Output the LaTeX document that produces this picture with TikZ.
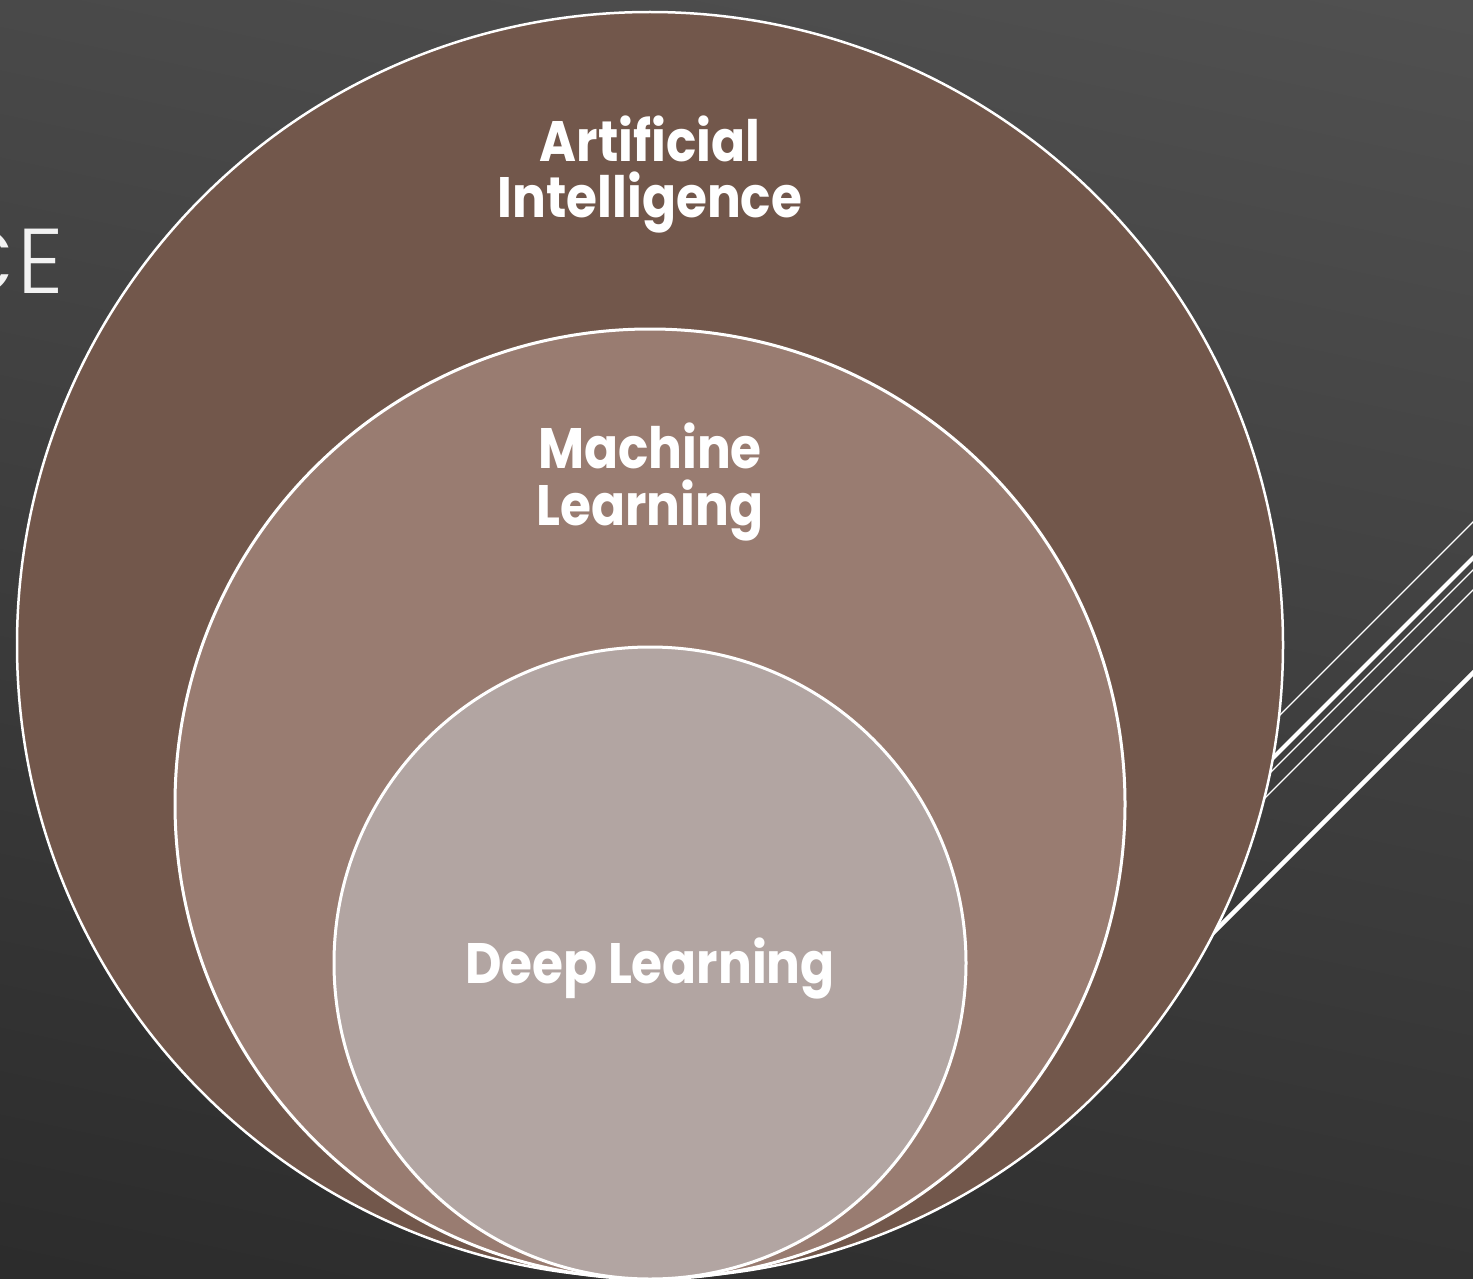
\documentclass[tikz,border=0pt]{standalone}
\usepackage{fontspec}
\setmainfont{Poppins}
\newfontfamily\lightfont{Poppins Light}
\newfontfamily\labfont{Poppins Bold}[FakeStretch=0.88]
\definecolor{bgtop}{HTML}{525252}
\definecolor{bgbot}{HTML}{2A2A2A}
\definecolor{aicol}{HTML}{72574B}
\definecolor{mlcol}{HTML}{997C71}
\definecolor{dlcol}{HTML}{B2A5A2}
\definecolor{titlecol}{HTML}{F2F2F2}
\begin{document}
\begin{tikzpicture}[x=1pt,y=-1pt,
  ring/.style={circle, draw=white, inner sep=0pt, outer sep=0pt},
  label/.style={text=white, font=\labfont\fontsize{57}{57}\selectfont, align=center, inner sep=0pt},
  thinline/.style={draw=white, line width=1.3pt},
  thickline/.style={draw=white, line width=4pt}]
\useasboundingbox (0,0) rectangle (1473,1279);
\begin{scope}
\clip (0,0) rectangle (1473,1279);
\shade[top color=bgtop, bottom color=bgbot, shading angle=-12] (-200,-200) rectangle (1673,1479);
% partially visible title
\node[anchor=base east, inner sep=0pt, text=titlecol, font=\lightfont\fontsize{92}{92}\selectfont] (title) at (64,293) {C\hspace{3pt}E};
% decorative lines on the right
\coordinate (l1a) at (1480,515); \coordinate (l1b) at (1173,822);
\coordinate (l2a) at (1480,551); \coordinate (l2b) at (1173,858);
\coordinate (l3a) at (1480,563); \coordinate (l3b) at (1173,870);
\coordinate (l4a) at (1480,583); \coordinate (l4b) at (1173,890);
\coordinate (l5a) at (1480,666); \coordinate (l5b) at (1173,973);
\draw[thinline] (l1a) -- (l1b);
\draw[thickline] (l2a) -- (l2b);
\draw[thinline] (l3a) -- (l3b);
\draw[thinline] (l4a) -- (l4b);
\draw[thickline, line width=4.5pt] (l5a) -- (l5b);
% nested circles
\node[ring, fill=aicol, line width=2.5pt, minimum size=1266pt] (ai) at (650,645) {};
\node[ring, fill=mlcol, line width=3pt, minimum size=950pt] (ml) at (650,804) {};
\node[ring, fill=dlcol, line width=3pt, minimum size=632pt] (dl) at (650,963) {};
% labels
\node[label, anchor=base] (ailab) at (650,218) {Artificial\\Intelligence};
\node[label, anchor=base] (mllab) at (650,525) {Machine\\Learning};
\node[label, anchor=base] (dllab) at (650,983) {Deep Learning};
\end{scope}
\end{tikzpicture}
\end{document}
